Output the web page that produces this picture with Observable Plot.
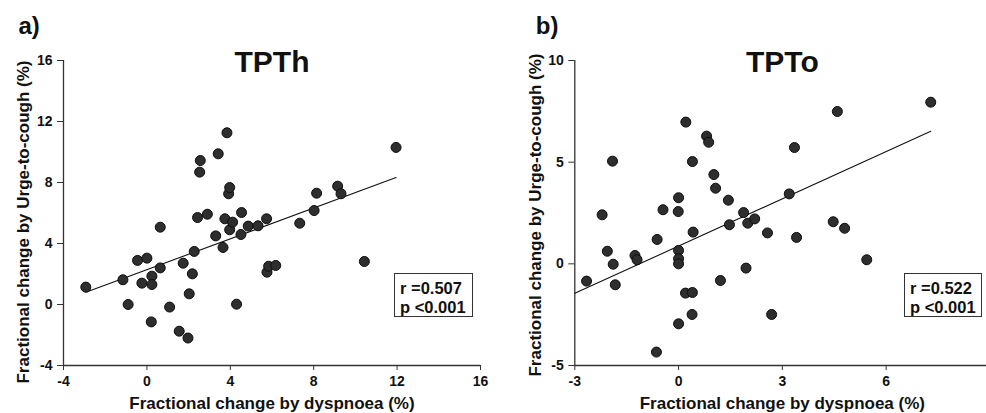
<!DOCTYPE html>
<html><head><meta charset="utf-8">
<script src="https://cdn.jsdelivr.net/npm/d3@7"></script>
<script src="https://cdn.jsdelivr.net/npm/@observablehq/plot@0.6"></script>
<style>
html,body{margin:0;padding:0;background:#fff;overflow:hidden;}
#wrap{position:relative;width:986px;height:413px;overflow:hidden;font-family:"Liberation Sans",Arial,sans-serif;background:#fff;}
.panel{position:absolute;top:0;height:413px;}
.panel svg{max-width:none !important;}
.stat{position:absolute;border:1px solid #333;font-weight:bold;font-size:16.5px;line-height:19px;color:#111;box-sizing:border-box;padding:5px 0 0 5px;background:#fff;white-space:nowrap;}
</style></head><body><div id="wrap"></div>
<script>
// Panel a) TPTh
const xTPTh = [-2.93, -1.15, -0.9, -0.45, -0.24, 0.0, 0.24, 0.24, 0.21, 0.64, 0.64, 1.09, 1.55, 1.97, 1.74, 2.03, 2.18, 2.27, 2.43, 2.53, 2.56, 2.9, 3.3, 3.42, 3.65, 3.74, 3.84, 3.92, 3.97, 3.97, 4.11, 4.3, 4.51, 4.54, 4.86, 5.33, 5.74, 5.76, 5.84, 6.18, 7.33, 8.02, 8.14, 9.15, 9.31, 10.43, 11.95];
const yTPTh = [1.14, 1.62, 0.0, 2.89, 1.4, 3.04, 1.86, 1.31, -1.14, 5.07, 2.4, -0.17, -1.75, -2.2, 2.71, 0.7, 2.01, 3.48, 5.7, 8.68, 9.44, 5.92, 4.5, 9.88, 3.74, 5.62, 11.26, 7.26, 7.67, 4.9, 5.4, 0.02, 4.59, 6.03, 5.14, 5.16, 5.62, 2.12, 2.51, 2.56, 5.33, 6.16, 7.3, 7.76, 7.26, 2.82, 10.3];
const fitTPThX = [-2.93, 11.95];
const fitTPThY = [0.80, 8.33];
const statsTPTh = ["r =0.507", "p <0.001"];
const xTicksA = [-4, 0, 4, 8, 12, 16];
const yTicksA = [-4, 0, 4, 8, 12, 16];

// Panel b) TPTo
const xTPTo = [-2.66, -2.21, -2.06, -1.91, -1.89, -1.83, -1.26, -1.2, -0.62, -0.64, -0.45, 0.0, -0.01, 0.0, 0.0, 0.0, 0.0, 0.21, 0.2, 0.4, 0.39, 0.4, 0.42, 0.81, 0.87, 1.02, 1.07, 1.21, 1.44, 1.47, 1.88, 1.95, 2.0, 2.2, 2.57, 2.69, 3.2, 3.35, 3.41, 4.47, 4.59, 4.8, 5.44, 7.29];
const yTPTo = [-0.85, 2.41, 0.62, 5.05, -0.02, -1.03, 0.41, 0.2, 1.2, -4.34, 2.66, 3.25, 2.57, 0.66, 0.25, 0.0, -2.95, 6.97, -1.44, -1.41, -2.49, 5.03, 1.56, 6.28, 5.98, 4.39, 3.72, -0.82, 3.13, 1.92, 2.52, -0.21, 2.0, 2.21, 1.52, -2.49, 3.44, 5.72, 1.3, 2.07, 7.49, 1.75, 0.2, 7.95];
const fitTPToX = [-3, 7.29];
const fitTPToY = [-1.45, 6.52];
const statsTPTo = ["r =0.522", "p <0.001"];
const xTicksB = [-3, 0, 3, 6, 9];
const yTicksB = [-5, 0, 5, 10];

const xLabel = "Fractional change by dyspnoea (%)";
const yLabel = "Fractional change by Urge-to-cough (%)";

function panel(o) {
  const pts = o.xs.map((x, i) => ({x, y: o.ys[i]}));
  const fit = o.fitX.map((x, i) => ({x, y: o.fitY[i]}));
  const fmt = d => String(d);
  return Plot.plot({
    width: o.width, height: 413,
    marginLeft: o.marginLeft, marginRight: o.marginRight, marginTop: 60, marginBottom: 48,
    style: {fontFamily: "'Liberation Sans', Arial, sans-serif", fontSize: "14px", color: "#111", background: "transparent", overflow: "visible", maxWidth: "none"},
    x: {domain: o.xDomain},
    y: {domain: o.yDomain},
    marks: [
      Plot.ruleX([o.xDomain[0]], {stroke: "#333", strokeWidth: 1.3}),
      Plot.ruleY([o.yDomain[0]], {stroke: "#333", strokeWidth: 1.3}),
      Plot.axisX({ticks: o.xTicks, tickFormat: fmt, tickSize: 5, tickPadding: 6, label: null, stroke: "#333", fill: "#111", fontSize: 14, fontWeight: "bold"}),
      Plot.axisY({ticks: o.yTicks, tickFormat: fmt, tickSize: 6, tickPadding: 5, label: null, stroke: "#333", fill: "#111", fontSize: 14, fontWeight: "bold"}),
      Plot.line(fit, {x: "x", y: "y", stroke: "#111", strokeWidth: 1.1}),
      Plot.dot(pts, {x: "x", y: "y", r: 5, fill: "#2e2e2e", stroke: "#0d0d0d", strokeWidth: 1}),
      Plot.text([o.title], {text: d => d, frameAnchor: "top", lineAnchor: "top", dy: -10, fontSize: 30, fontWeight: "bold", fill: "#111"}),
      Plot.text([o.tag], {text: d => d, frameAnchor: "top-left", textAnchor: "start", lineAnchor: "top", dx: o.tagDx, dy: -44, fontSize: 24, fontWeight: "bold", fill: "#111"}),
      Plot.text([xLabel], {text: d => d, frameAnchor: "bottom", lineAnchor: "top", dy: 31, fontSize: 17, fontWeight: "bold", fill: "#111"}),
      Plot.text([yLabel], {text: d => d, frameAnchor: "left", rotate: -90, textAnchor: "middle", lineAnchor: "middle", dx: o.yLabelDx, dy: o.yLabelDy, fontSize: 17, fontWeight: "bold", fill: "#111"})
    ]
  });
}

const wrap = document.getElementById("wrap");

const pa = panel({xs: xTPTh, ys: yTPTh, fitX: fitTPThX, fitY: fitTPThY, xDomain: [-4, 16], yDomain: [-4, 16],
  xTicks: xTicksA, yTicks: yTicksA, width: 490, marginLeft: 63, marginRight: 10,
  title: "TPTh", tag: "a)", tagDx: -45, yLabelDx: -40, yLabelDy: 9});
const da = document.createElement("div"); da.className = "panel"; da.style.left = "0px"; da.style.width = "490px"; da.appendChild(pa); wrap.appendChild(da);

const pb = panel({xs: xTPTo, ys: yTPTo, fitX: fitTPToX, fitY: fitTPToY, xDomain: [-3, 9], yDomain: [-5, 10],
  xTicks: xTicksB, yTicks: yTicksB, width: 510, marginLeft: 84.3, marginRight: 10.6,
  title: "TPTo", tag: "b)", tagDx: -39, yLabelDx: -39, yLabelDy: 2});
const db = document.createElement("div"); db.className = "panel"; db.style.left = "490px"; db.style.width = "510px"; db.appendChild(pb); wrap.appendChild(db);

function statBox(lines, left, width) {
  const d = document.createElement("div");
  d.className = "stat";
  d.style.left = left + "px"; d.style.top = "273px";
  d.style.width = width + "px"; d.style.height = "44px";
  d.innerHTML = lines.join("<br>");
  wrap.appendChild(d);
}
statBox(statsTPTh, 394, 79);
statBox(statsTPTo, 904, 78);
</script>
</body></html>
